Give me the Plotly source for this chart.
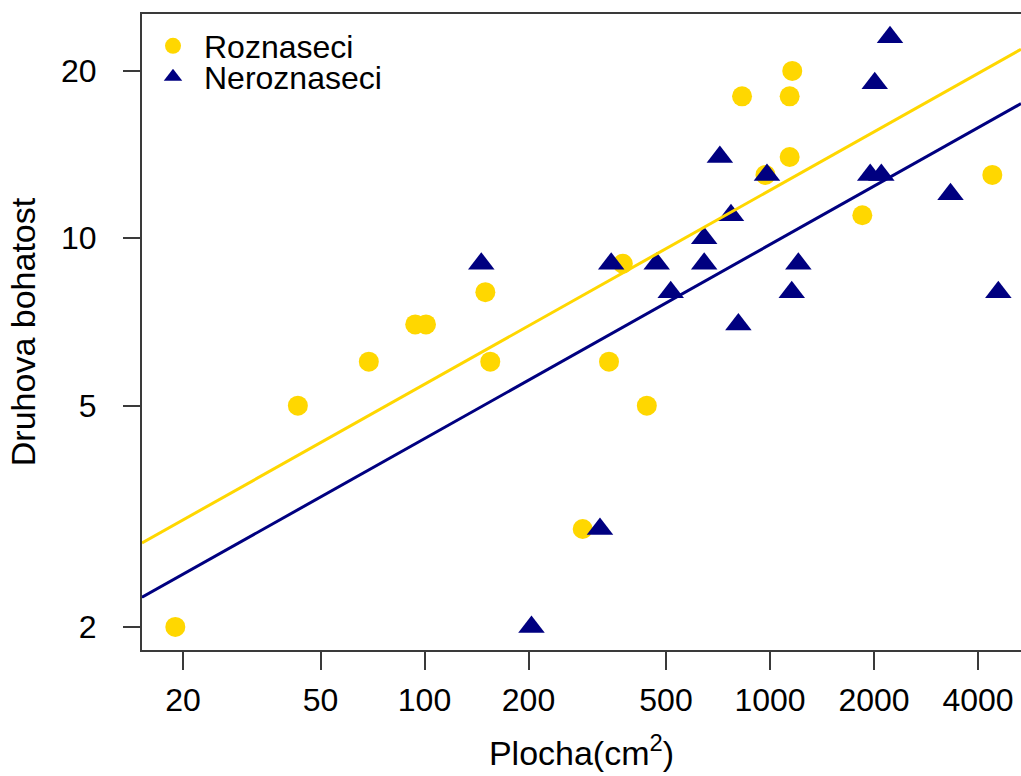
import numpy as np
import plotly.graph_objects as go

# ---- data ----
roz_x = [19, 43, 69, 94, 101, 150, 155, 287, 342, 375, 440, 830, 970, 1140, 1140, 1160, 1850, 4400]
roz_y = [2, 5, 6, 7, 7, 8, 6, 3, 6, 9, 5, 18, 13, 14, 18, 20, 11, 13]

nero_x = [146, 204, 322, 347, 470, 516, 645, 645, 716, 771, 810, 980, 1156, 1208, 1950, 2010, 2100, 2225, 3330, 4580]
nero_y = [9, 2, 3, 9, 9, 8, 9, 10, 14, 11, 7, 13, 8, 9, 13, 19, 13, 23, 12, 8]

# fitted lines on log10-log10 scale: log10(y) = intercept + slope * log10(x)
slope = 0.349
roz_intercept = 0.0394
nero_intercept = -0.0583

x_ticks = [20, 50, 100, 200, 500, 1000, 2000, 4000]
y_ticks = [2, 5, 10, 20]

x_range_log = [1.1823, 3.7265]
y_range_log = [0.2595, 1.4034]

YELLOW = "#FFD700"
NAVY = "#000080"
AXIS = "#3a3a3a"
FONT = "Arial, Liberation Sans, sans-serif"

line_x = np.array([10 ** x_range_log[0], 10 ** x_range_log[1]])
roz_line_y = 10 ** (roz_intercept + slope * np.log10(line_x))
nero_line_y = 10 ** (nero_intercept + slope * np.log10(line_x))

fig = go.Figure()
fig.add_trace(go.Scatter(
    x=roz_x, y=roz_y, mode="markers", name="Roznaseci",
    marker=dict(symbol="circle", size=20, color=YELLOW, line=dict(width=0)),
    legend="legend",
))
fig.add_trace(go.Scatter(
    x=nero_x, y=nero_y, mode="markers", name="Neroznaseci",
    marker=dict(symbol="triangle-up", size=23, color=NAVY, line=dict(width=0)),
    legend="legend2",
))
fig.add_trace(go.Scatter(
    x=line_x, y=roz_line_y, mode="lines", showlegend=False,
    line=dict(color=YELLOW, width=3), hoverinfo="skip",
))
fig.add_trace(go.Scatter(
    x=line_x, y=nero_line_y, mode="lines", showlegend=False,
    line=dict(color=NAVY, width=3), hoverinfo="skip",
))

legend_common = dict(
    x=0.0, xanchor="left", yanchor="middle",
    bgcolor="rgba(0,0,0,0)", borderwidth=0,
    font=dict(family=FONT, size=32, color="black"),
    itemwidth=52,
)

fig.update_layout(
    width=1021, height=776,
    margin=dict(l=142, r=0, t=14, b=126),
    paper_bgcolor="white", plot_bgcolor="white",
    font=dict(family=FONT, size=32, color="black"),
    legend=dict(y=1 - (46 - 14) / 636, **legend_common),
    legend2=dict(y=1 - (77 - 14) / 636, **legend_common),
    xaxis=dict(
        type="log", range=x_range_log,
        tickvals=x_ticks, ticktext=[str(v) for v in x_ticks],
        ticks="outside", ticklen=18, tickwidth=2, tickcolor=AXIS,
        showline=True, linecolor=AXIS, linewidth=2, mirror=True,
        showgrid=False, zeroline=False,
        tickfont=dict(family=FONT, size=32, color="black"),
        ticklabelstandoff=3,
        title=dict(text="Plocha(cm<sup>2</sup>)", font=dict(family=FONT, size=34, color="black"), standoff=24),
    ),
    yaxis=dict(
        type="log", range=y_range_log,
        tickvals=y_ticks, ticktext=[str(v) for v in y_ticks],
        ticks="outside", ticklen=17, tickwidth=2, tickcolor=AXIS,
        showline=True, linecolor=AXIS, linewidth=2, mirror=False,
        showgrid=False, zeroline=False,
        tickfont=dict(family=FONT, size=32, color="black"),
        ticklabelstandoff=20,
        title=dict(text="Druhova bohatost", font=dict(family=FONT, size=34, color="black"), standoff=15),
    ),
)

fig.write_html(
    "out.html",
    config={"displayModeBar": False},
    post_script="document.body.style.margin='0';",
)
